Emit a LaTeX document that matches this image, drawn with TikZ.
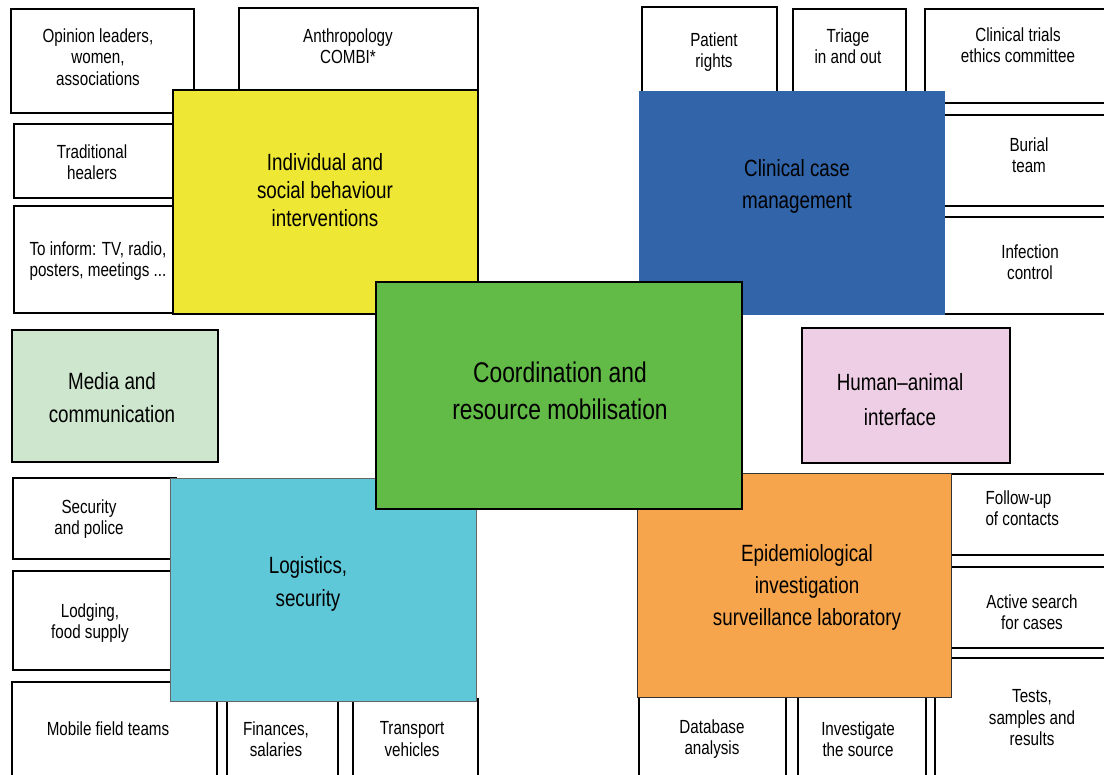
\documentclass[tikz,border=0pt]{standalone}
\usepackage{fontspec}
\setmainfont[FakeStretch=0.8]{Liberation Sans}
\usepackage{tikz}

\definecolor{behav}{HTML}{EEE733}
\definecolor{clin}{HTML}{3164A8}
\definecolor{coord}{HTML}{63BB47}
\definecolor{logis}{HTML}{5FC8D8}
\definecolor{epid}{HTML}{F7A54C}
\definecolor{media}{HTML}{CDE6CD}
\definecolor{human}{HTML}{EDCEE4}

\tikzset{
  sub/.style={draw=black, fill=white, line width=1.5pt},
  main/.style={draw=black, line width=1.5pt},
  small/.style={align=center, font=\fontsize{19}{21.5}\selectfont},
  big/.style={align=center, font=\fontsize{23.5}{32}\selectfont},
  huge/.style={align=center, font=\fontsize{28.5}{37}\selectfont}
}

\begin{document}
\begin{tikzpicture}[x=1pt, y=-1pt]
    \useasboundingbox (0,0) rectangle (1104,775);

    % white boxes, upper left
    \draw[sub] (11,9) rectangle (194,113);
    \draw[sub] (239,8) rectangle (478,100);
    \draw[sub] (14,124) rectangle (180,198);
    \draw[sub] (14,206) rectangle (180,313);
    \node[small] (opinion) at (98,57) {Opinion leaders,\\women,\\associations};
    \node[small] (anthro) at (348,46) {Anthropology\\COMBI*};
    \node[small] (healers) at (92,162) {Traditional\\healers};
    \node[small] (inform) at (98,261) {To inform: TV, radio,\\posters, meetings ...};

    % white boxes, upper right
    \draw[sub] (642,7) rectangle (777,100);
    \draw[sub] (793,9) rectangle (906,100);
    \draw[sub] (925,9) rectangle (1110,103);
    \draw[sub] (940,115) rectangle (1110,206);
    \draw[sub] (940,217) rectangle (1110,314);
    \node[small] (patient) at (714,52) {Patient\\rights};
    \node[small] (triage) at (848,46) {Triage\\in and out};
    \node[small] (trials) at (1018,45) {Clinical trials\\ethics committee};
    \node[small] (burial) at (1029,155) {Burial\\team};
    \node[small] (infect) at (1030,262) {Infection\\control};

    % white boxes, lower left
    \draw[sub] (13,478) rectangle (176,559);
    \draw[sub] (13,571) rectangle (176,670);
    \draw[sub] (12,682) rectangle (217,790);
    \draw[sub] (227,699) rectangle (338,790);
    \draw[sub] (353,699) rectangle (478,790);
    \node[small] (police) at (89,519) {Security\\and police};
    \node[small] (lodging) at (90,623) {Lodging,\\food supply};
    \node[small] (mobile) at (108,729) {Mobile field teams};
    \node[small] (finance) at (276,739) {Finances,\\salaries};
    \node[small] (transport) at (412,739) {Transport\\vehicles};

    % white boxes, lower right
    \draw[sub] (945,474) rectangle (1110,555);
    \draw[sub] (945,567) rectangle (1110,648);
    \draw[sub] (935,658) rectangle (1110,790);
    \draw[sub] (639,690) rectangle (786,790);
    \draw[sub] (798,690) rectangle (926,790);
    \node[small, align=left, anchor=west] (follow) at (982,508) {Follow-up\\of contacts};
    \node[small] (search) at (1032,612) {Active search\\for cases};
    \node[small] (tests) at (1032,718) {Tests,\\samples and\\results};
    \node[small] (database) at (712,739) {Database\\analysis};
    \node[small] (source) at (858,739) {Investigate\\the source};

    % coloured areas
    \filldraw[main, fill=behav] (173,90) rectangle (478,314);
    \node[big, font=\fontsize{23.5}{28}\selectfont] (behaviour) at (325,190) {Individual and\\social behaviour\\interventions};

    \fill[clin] (639,91) rectangle (945,315);
    \node[big] (clinical) at (797,186) {Clinical case\\management};

    \filldraw[main, fill=media] (12,330) rectangle (218,462);
    \node[big, font=\fontsize{23.5}{33}\selectfont] (mediacom) at (112,398) {Media and\\communication};

    \filldraw[main, fill=human] (802,328) rectangle (1010,463);
    \node[big, font=\fontsize{23.5}{35}\selectfont] (animal) at (900,400) {Human--animal\\interface};

    \filldraw[draw=black!60, line width=0.8pt, fill=logis] (170,478) rectangle (476,701);
    \node[big, font=\fontsize{23.5}{33}\selectfont] (logistics) at (308,584) {Logistics,\\security};

    \filldraw[draw=black!80, line width=1pt, fill=epid] (637,474) rectangle (951,697);
    \node[big] (epidem) at (807,587) {Epidemiological\\investigation\\surveillance laboratory};

    % centre
    \filldraw[main, fill=coord] (376,282) rectangle (742,509);
    \node[huge] (coordin) at (560,391) {Coordination and\\resource mobilisation};
\end{tikzpicture}
\end{document}
